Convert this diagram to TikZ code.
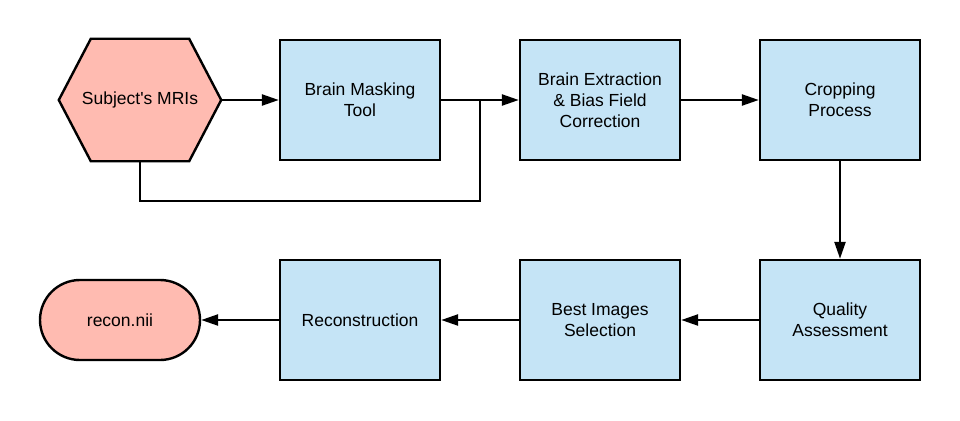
\documentclass[tikz,border=0pt]{standalone}
\usepackage{fontspec}
\setmainfont{Liberation Sans}
\newfontfamily\plainfont{Liberation Sans}
\usetikzlibrary{arrows.meta,calc}
\definecolor{boxblue}{RGB}{197,228,246}
\definecolor{boxpink}{RGB}{255,187,177}
\begin{document}
\begin{tikzpicture}[x=1pt,y=1pt,
  line width=2.4pt,
  every node/.style={font=\plainfont\fontsize{17.5}{21}\selectfont, align=center, inner sep=0pt},
  proc/.style={draw, fill=boxblue, minimum width=160pt, minimum height=120pt},
  term/.style={draw, fill=boxpink, minimum width=160pt, minimum height=80pt, rounded corners=40pt},
  flow/.style={-{Triangle[length=17pt,width=11pt]}}
]
\useasboundingbox (0,0) rectangle (960,-420);
% hexagon
\node[minimum width=160pt, minimum height=120pt] (hex) at (140,-100) {};
\draw[fill=boxpink, line join=miter] (hex.west) -- ($(hex.north west)+(32,0)$) -- ($(hex.north east)+(-32,0)$) -- (hex.east) -- ($(hex.south east)+(-32,0)$) -- ($(hex.south west)+(32,0)$) -- cycle;
\node at (hex.center) {Subject's MRIs};

\node[proc] (mask) at (360,-100) {Brain Masking\\Tool};
\node[proc] (extr) at (600,-100) {Brain Extraction\\\& Bias Field\\Correction};
\node[proc] (crop) at (840,-100) {Cropping\\Process};
\node[proc] (qual) at (840,-320) {Quality\\Assessment};
\node[proc] (best) at (600,-320) {Best Images\\Selection};
\node[proc] (reco) at (360,-320) {Reconstruction};
\node[term] (out) at (120,-320) {recon.nii};

\coordinate (jn) at (480,-100);

\draw[flow] (hex.east) -- (mask.west);
\draw[flow] (mask.east) -- (extr.west);
\draw (hex.south) -- ++(0,-40) -| (jn);
\draw[flow] (extr.east) -- (crop.west);
\draw[flow] (crop.south) -- (qual.north);
\draw[flow] (qual.west) -- (best.east);
\draw[flow] (best.west) -- (reco.east);
\draw[flow] (reco.west) -- (out.east);
\end{tikzpicture}
\end{document}
